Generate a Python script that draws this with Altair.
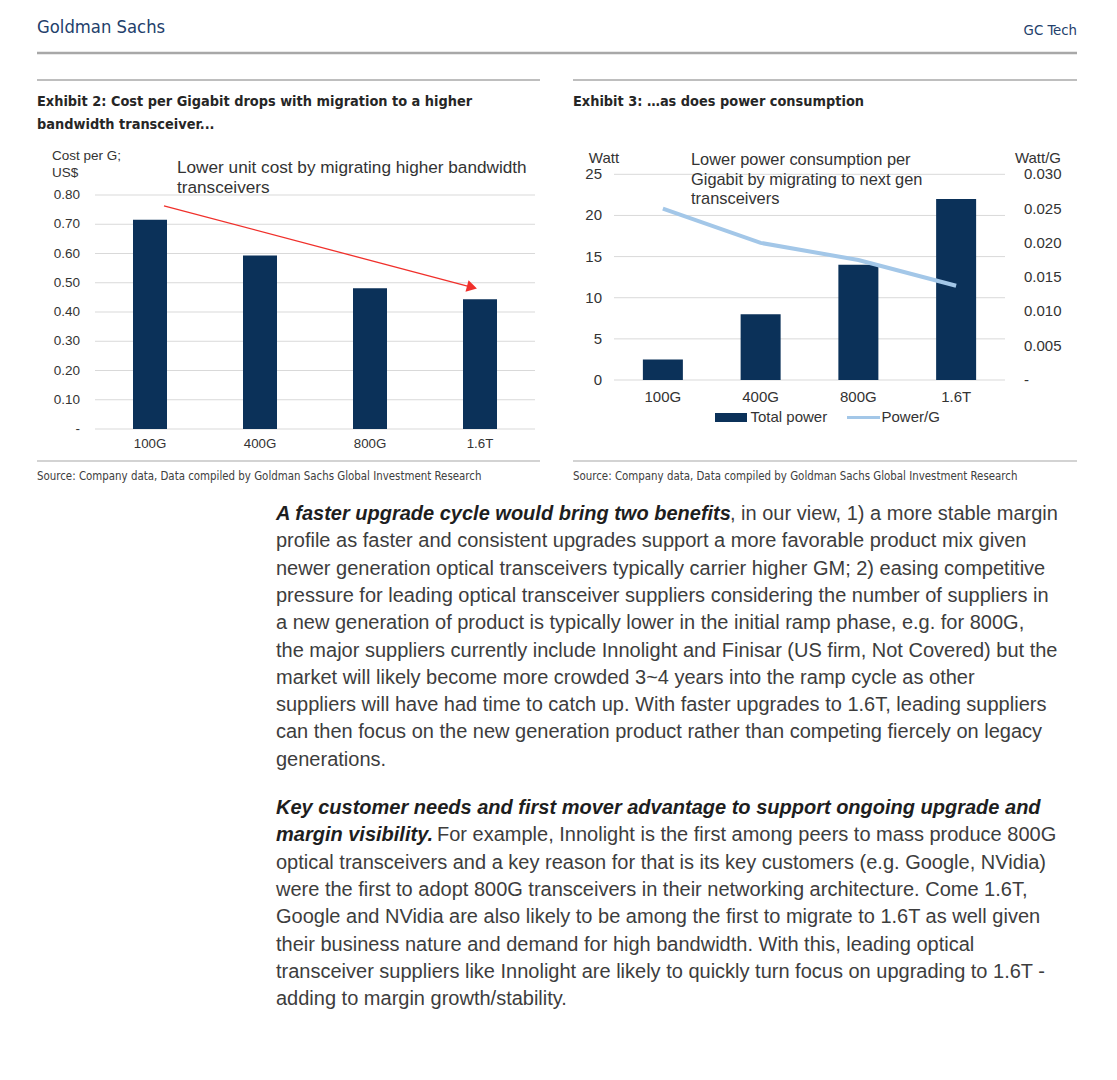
import altair as alt
import pandas as pd

# ---------------- data ----------------
CATS = ["100G", "400G", "800G", "1.6T"]

# Exhibit 2: cost per gigabit (US$)
COST = [0.715, 0.593, 0.481, 0.444]
COST_TICKS = [0, 0.1, 0.2, 0.3, 0.4, 0.5, 0.6, 0.7, 0.8]
COST_TICK_LABELS = ["-", "0.10", "0.20", "0.30", "0.40", "0.50", "0.60", "0.70", "0.80"]
# trend arrow, x in category-index units (0..4), y in US$
ARROW_X = [0.627, 3.412]
ARROW_Y = [0.763, 0.486]

# Exhibit 3: power
TOTAL_POWER = [2.5, 8, 14, 22]
POWER_PER_G = [0.025, 0.020, 0.0175, 0.01375]
WATT_TICKS = [0, 5, 10, 15, 20, 25]
WATT_TICK_LABELS = ["0", "5", "10", "15", "20", "25"]
WPG_TICKS = [0, 0.005, 0.010, 0.015, 0.020, 0.025, 0.030]
WPG_TICK_LABELS = ["-", "0.005", "0.010", "0.015", "0.020", "0.025", "0.030"]

# body text
P1_LEAD = ["A faster upgrade cycle would bring two benefits", "", "", "", "", "", "", "", "", ""]
P1_TEXT = [
    ", in our view, 1) a more stable margin",
    "profile as faster and consistent upgrades support a more favorable product mix given",
    "newer generation optical transceivers typically carrier higher GM; 2) easing competitive",
    "pressure for leading optical transceiver suppliers considering the number of suppliers in",
    "a new generation of product is typically lower in the initial ramp phase, e.g. for 800G,",
    "the major suppliers currently include Innolight and Finisar (US firm, Not Covered) but the",
    "market will likely become more crowded 3~4 years into the ramp cycle as other",
    "suppliers will have had time to catch up. With faster upgrades to 1.6T, leading suppliers",
    "can then focus on the new generation product rather than competing fiercely on legacy",
    "generations.",
]
P2_LEAD = ["Key customer needs and first mover advantage to support ongoing upgrade and",
           "margin visibility.", "", "", "", "", "", ""]
P2_TEXT = [
    "",
    "For example, Innolight is the first among peers to mass produce 800G",
    "optical transceivers and a key reason for that is its key customers (e.g. Google, NVidia)",
    "were the first to adopt 800G transceivers in their networking architecture. Come 1.6T,",
    "Google and NVidia are also likely to be among the first to migrate to 1.6T as well given",
    "their business nature and demand for high bandwidth. With this, leading optical",
    "transceiver suppliers like Innolight are likely to quickly turn focus on upgrading to 1.6T -",
    "adding to margin growth/stability.",
]

# ---------------- styles ----------------
W, H = 1101, 1064
NAVY = "#0b3159"
LIGHT = "#a3c7e8"
RED = "#f0302b"
GRID = "#d9d9d9"
SEP = "#a8a8a8"
TXT = "#333333"
BODY = "#3d3d3d"
GS = "#23406b"
ARIAL = "Liberation Sans, Arial, sans-serif"
NARROW = "Liberation Sans Narrow, Arial Narrow, DejaVu Sans Condensed, sans-serif"
BODYFONT = "Liberation Sans, Arial, sans-serif"
BODYSIZE = 20

ONE = pd.DataFrame({"k": [0]})


def label(s, x, y, size, font=ARIAL, color=TXT, align="left", weight="normal", style="normal"):
    return alt.Chart(ONE).mark_text(
        text=s, align=align, baseline="middle", font=font, fontSize=size,
        color=color, fontWeight=weight, fontStyle=style
    ).encode(x=alt.value(x), y=alt.value(y))


def hline(x1, x2, y, color=SEP, w=1.0):
    return alt.Chart(ONE).mark_rule(color=color, strokeWidth=w).encode(
        x=alt.value(x1), x2=alt.value(x2), y=alt.value(y))


# ---------------- scales ----------------
LX = alt.Scale(type="band", domain=CATS, range=[87, 527], paddingInner=0, paddingOuter=0)
LXI = alt.Scale(domain=[0, 4], range=[87, 527], nice=False, zero=False)
LY = alt.Scale(domain=[0, 0.8], range=[421, 187], nice=False, zero=True)
RX = alt.Scale(type="band", domain=CATS, range=[606, 997], paddingInner=0, paddingOuter=0)
RY = alt.Scale(domain=[0, 25], range=[372, 166.3], nice=False, zero=True)
RY2 = alt.Scale(domain=[0, 0.03], range=[372, 166.3], nice=False, zero=True)
ROW = alt.Scale(domain=[0, 10], range=[506, 779], nice=False, zero=False)

# ---------------- page decoration ----------------
page = [
    label("Goldman Sachs", 29, 20, 18.3, font=NARROW, color=GS),
    label("GC Tech", 1069, 23, 14.8, font=NARROW, color=GS, align="right"),
    hline(29, 1069, 45, w=2.5),
    hline(29, 532, 72, w=1.5),
    hline(565, 1069, 72, w=1.5),
    label("Exhibit 2: Cost per Gigabit drops with migration to a higher", 29, 94, 14.4,
          font=NARROW, color="#262626", weight="bold"),
    label("bandwidth transceiver...", 29, 117, 14.4, font=NARROW, color="#262626", weight="bold"),
    label("Exhibit 3: \u2026as does power consumption", 565, 94, 14.4,
          font=NARROW, color="#262626", weight="bold"),
    hline(29, 532, 453, w=1.2),
    hline(565, 1069, 453, w=1.2),
    label("Source: Company data, Data compiled by Goldman Sachs Global Investment Research",
          29, 469, 11.4, font=NARROW, color="#404040"),
    label("Source: Company data, Data compiled by Goldman Sachs Global Investment Research",
          565, 469, 11.4, font=NARROW, color="#404040"),
]

# ---------------- Exhibit 2 ----------------
lt = pd.DataFrame({"v": COST_TICKS, "lab": COST_TICK_LABELS})
ld = pd.DataFrame({"cat": CATS, "cost": COST})

left_group = alt.layer(
    alt.Chart(lt).mark_rule(color=GRID, strokeWidth=1).encode(
        y=alt.Y("v:Q", scale=LY, axis=None), x=alt.value(87), x2=alt.value(527)),
    alt.Chart(lt).mark_text(align="right", baseline="middle", font=ARIAL, fontSize=13.5, color=TXT).encode(
        y=alt.Y("v:Q", scale=LY, axis=None), x=alt.value(72), text="lab:N"),
    alt.Chart(ld).mark_bar(width=34, color=NAVY).encode(
        x=alt.X("cat:N", scale=LX, axis=None, sort=CATS),
        y=alt.Y("cost:Q", scale=LY, axis=None)),
    alt.Chart(ld).mark_text(baseline="middle", font=ARIAL, fontSize=13.3, color=TXT).encode(
        x=alt.X("cat:N", scale=LX, axis=None, sort=CATS), y=alt.value(436), text="cat:N"),
)

ad = pd.DataFrame({"x": [ARROW_X[0]], "y": [ARROW_Y[0]], "x2": [ARROW_X[1]], "y2": [ARROW_Y[1]]})
arrow_group = alt.layer(
    alt.Chart(ad).mark_rule(color=RED, strokeWidth=1.3).encode(
        x=alt.X("x:Q", scale=LXI, axis=None), y=alt.Y("y:Q", scale=LY, axis=None),
        x2="x2:Q", y2="y2:Q"),
    alt.Chart(ad).mark_point(shape="triangle", filled=True, size=140, angle=105,
                             color=RED, opacity=1).encode(
        x=alt.X("x2:Q", scale=LXI, axis=None), y=alt.Y("y2:Q", scale=LY, axis=None)),
)

left_text = [
    label("Cost per G;", 44, 148, 13.5),
    label("US$", 44, 165, 13.5),
    label("Lower unit cost by migrating higher bandwidth", 169, 159.5, 17.2),
    label("transceivers", 169, 179.5, 17.2),
]

# ---------------- Exhibit 3 ----------------
rt = pd.DataFrame({"v": WATT_TICKS, "lab": WATT_TICK_LABELS})
rt2 = pd.DataFrame({"v": WPG_TICKS, "lab": WPG_TICK_LABELS})
rd = pd.DataFrame({"cat": CATS, "total": TOTAL_POWER, "perg": POWER_PER_G})

right_group = alt.layer(
    alt.Chart(rt).mark_rule(color=GRID, strokeWidth=1).encode(
        y=alt.Y("v:Q", scale=RY, axis=None), x=alt.value(606), x2=alt.value(997)),
    alt.Chart(rt).mark_text(align="right", baseline="middle", font=ARIAL, fontSize=15, color=TXT).encode(
        y=alt.Y("v:Q", scale=RY, axis=None), x=alt.value(594), text="lab:N"),
    alt.Chart(rd).mark_bar(width=40, color=NAVY).encode(
        x=alt.X("cat:N", scale=RX, axis=None, sort=CATS),
        y=alt.Y("total:Q", scale=RY, axis=None)),
    alt.Chart(rd).mark_text(baseline="middle", font=ARIAL, fontSize=15, color=TXT).encode(
        x=alt.X("cat:N", scale=RX, axis=None, sort=CATS), y=alt.value(389), text="cat:N"),
)

line_group = alt.layer(
    alt.Chart(rt2).mark_text(align="left", baseline="middle", font=ARIAL, fontSize=15, color=TXT).encode(
        y=alt.Y("v:Q", scale=RY2, axis=None), x=alt.value(1016), text="lab:N"),
    alt.Chart(rd).mark_line(color=LIGHT, strokeWidth=4).encode(
        x=alt.X("cat:N", scale=RX, axis=None, sort=CATS),
        y=alt.Y("perg:Q", scale=RY2, axis=None)),
)

right_text = [
    label("Watt", 596, 150, 15, align="center"),
    label("Watt/G", 1053, 150, 15, align="right"),
    label("Lower power consumption per", 683, 152, 16.4),
    label("Gigabit by migrating to next gen", 683, 171.5, 16.4),
    label("transceivers", 683, 191, 16.4),
    # legend
    alt.Chart(ONE).mark_rect(color=NAVY).encode(
        x=alt.value(707), x2=alt.value(739), y=alt.value(405), y2=alt.value(414)),
    label("Total power", 742.5, 409, 15),
    alt.Chart(ONE).mark_rule(color=LIGHT, strokeWidth=3).encode(
        x=alt.value(839), x2=alt.value(872), y=alt.value(409.5)),
    label("Power/G", 873.5, 409, 15),
]

# ---------------- body text ----------------
body = pd.DataFrame({
    "row": list(range(len(P1_TEXT) + len(P2_TEXT))),
    "para": [0] * len(P1_TEXT) + [1] * len(P2_TEXT),
    "lead": P1_LEAD + P2_LEAD,
    "text": P1_TEXT + P2_TEXT,
})
bbase = alt.Chart(body).transform_calculate(pos="datum.row + datum.para * 0.77")
ypos = alt.Y("pos:Q", scale=ROW, axis=None)
body_group = alt.layer(
    bbase.transform_filter("datum.lead == ''").mark_text(
        align="left", baseline="middle", font=BODYFONT, fontSize=BODYSIZE, color=BODY).encode(
        x=alt.value(268), y=ypos, text="text:N"),
    bbase.transform_filter("datum.lead != ''").mark_text(
        align="left", baseline="middle", font=BODYFONT, fontSize=BODYSIZE, color="#1e1e1e",
        fontWeight="bold", fontStyle="italic").encode(
        x=alt.value(268), y=ypos, text="lead:N"),
    bbase.transform_filter("datum.row == 0").mark_text(
        align="left", baseline="middle", font=BODYFONT, fontSize=BODYSIZE, color=BODY).encode(
        x=alt.value(722), y=ypos, text="text:N"),
    bbase.transform_filter("datum.row == 11").mark_text(
        align="left", baseline="middle", font=BODYFONT, fontSize=BODYSIZE, color=BODY).encode(
        x=alt.value(429), y=ypos, text="text:N"),
)

chart = alt.layer(
    *page, left_group, arrow_group, *left_text, right_group, line_group, *right_text, body_group
).resolve_scale(x="independent", y="independent").properties(
    width=W, height=H, padding=0, autosize="none"
).configure_view(stroke=None)

chart.save("out.html", embed_options={"renderer": "svg", "actions": False})
